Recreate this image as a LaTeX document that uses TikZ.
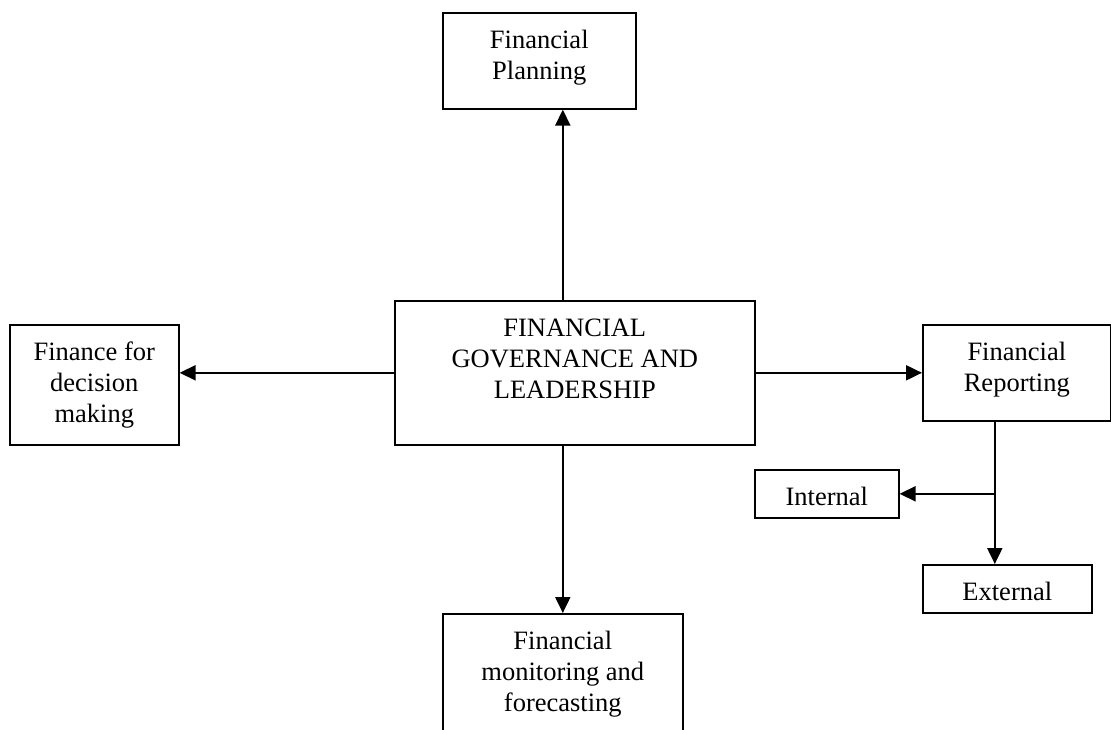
\documentclass[tikz,border=0pt]{standalone}
\usepackage{fontspec}
\setmainfont{Liberation Serif}
\usetikzlibrary{arrows.meta, positioning}
\tikzset{
        box/.style={draw, line width=1.6pt, inner sep=0pt, anchor=north west}, % plain box, placed by its top left corner
        link/.style={line width=2pt, -{Triangle[length=16pt, width=15pt]}}, % arrow from one box to another
    }
% text of a box: width, height, lines (top aligned like the original)
\newcommand{\boxtext}[3]{\parbox[t][#2][t]{#1}{\centering\rule{0pt}{36pt}#3}}

\begin{document}
\begin{tikzpicture}[x=1pt, y=-1pt, font=\fontsize{26.5}{31}\selectfont]
    \useasboundingbox (0,0) rectangle (1111,729);
    \node[box] (gov)  at (394,300) {\boxtext{360pt}{144pt}{FINANCIAL\\GOVERNANCE AND\\LEADERSHIP}};
    \node[box] (plan) at (442,12)  {\boxtext{193pt}{96pt}{Financial\\Planning}};
    \node[box] (dec)  at (9,324)   {\boxtext{169pt}{120pt}{Finance for\\decision\\making}};
    \node[box] (rep)  at (922,324) {\boxtext{188pt}{96pt}{Financial\\Reporting}};
    \node[box] (int)  at (754,469) {\boxtext{144pt}{48pt}{Internal}};
    \node[box] (ext)  at (922,564) {\boxtext{169pt}{48pt}{External}};
    \node[box] (mon)  at (442,613) {\boxtext{240pt}{140pt}{Financial\\monitoring and\\forecasting}};
    \coordinate (split) at ([xshift=-22pt]rep.south |- int.east);

    \draw[link] (gov.north -| mon.north) -- (plan.south -| mon.north);
    \draw[link] (gov.south -| mon.north) -- (mon.north);
    \draw[link] (gov.west) -- (dec.east |- gov.west);
    \draw[link] (gov.east) -- (rep.west);
    \draw[link] (split |- rep.south) -- (split |- ext.north);
    \draw[link] (split) -- (int.east);
  \end{tikzpicture}
\end{document}
